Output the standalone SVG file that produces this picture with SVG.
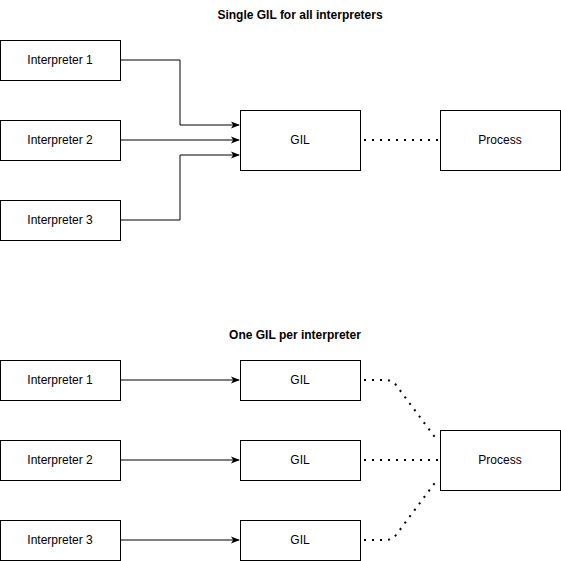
<svg xmlns="http://www.w3.org/2000/svg" width="561" height="561" viewBox="0 0 561 561">
<defs>
<style>
.box{fill:#fff;stroke:#000;stroke-width:1}
.lbl{font-family:"Liberation Sans",Arial,sans-serif;font-size:12px;fill:#000;text-anchor:middle;dominant-baseline:central}
.title{font-family:"Liberation Sans",Arial,sans-serif;font-size:12px;font-weight:bold;fill:#000;text-anchor:middle}
.arr{fill:none;stroke:#000;stroke-width:1;marker-end:url(#ah)}
.dot{fill:none;stroke:#000;stroke-width:2;stroke-dasharray:2 6;stroke-linejoin:round}
</style>
<marker id="ah" viewBox="0 0 10 10" refX="9" refY="5" markerWidth="9" markerHeight="9" markerUnits="userSpaceOnUse" orient="auto">
<path d="M0,1 L10,5 L0,9 L2.5,5 Z" fill="#000"/>
</marker>
</defs>
<rect width="561" height="561" fill="#fff"/>
<text class="title" x="300" y="19">Single GIL for all interpreters</text>
<text class="title" x="295" y="339">One GIL per interpreter</text>
<g id="connectors">
<path class="arr" d="M120,60 H180 V125 H239"/>
<path class="arr" d="M120,140 H239"/>
<path class="arr" d="M120,220 H180 V155 H239"/>
<path class="dot" d="M364,140 H440"/>
<path class="arr" d="M120,380 H239"/>
<path class="arr" d="M120,460 H239"/>
<path class="arr" d="M120,540 H239"/>
<path class="dot" d="M364,380 H386 Q392,380 396,385 L437,440"/>
<path class="dot" d="M364,460 H440"/>
<path class="dot" d="M364,540 H386 Q392,540 396,535 L437,480"/>
</g>
<g id="interp1"><rect class="box" x="0.5" y="40.5" width="120" height="40"/><text class="lbl" x="60" y="60">Interpreter 1</text></g>
<g id="interp2"><rect class="box" x="0.5" y="120.5" width="120" height="40"/><text class="lbl" x="60" y="140">Interpreter 2</text></g>
<g id="interp3"><rect class="box" x="0.5" y="200.5" width="120" height="40"/><text class="lbl" x="60" y="220">Interpreter 3</text></g>
<g id="gil"><rect class="box" x="240.5" y="110.5" width="120" height="60"/><text class="lbl" x="300" y="140">GIL</text></g>
<g id="process1"><rect class="box" x="440.5" y="110.5" width="120" height="60"/><text class="lbl" x="500" y="140">Process</text></g>
<g id="interp1b"><rect class="box" x="0.5" y="360.5" width="120" height="40"/><text class="lbl" x="60" y="380">Interpreter 1</text></g>
<g id="interp2b"><rect class="box" x="0.5" y="440.5" width="120" height="40"/><text class="lbl" x="60" y="460">Interpreter 2</text></g>
<g id="interp3b"><rect class="box" x="0.5" y="520.5" width="120" height="40"/><text class="lbl" x="60" y="540">Interpreter 3</text></g>
<g id="gil1"><rect class="box" x="240.5" y="360.5" width="120" height="40"/><text class="lbl" x="300" y="380">GIL</text></g>
<g id="gil2"><rect class="box" x="240.5" y="440.5" width="120" height="40"/><text class="lbl" x="300" y="460">GIL</text></g>
<g id="gil3"><rect class="box" x="240.5" y="520.5" width="120" height="40"/><text class="lbl" x="300" y="540">GIL</text></g>
<g id="process2"><rect class="box" x="440.5" y="430.5" width="120" height="60"/><text class="lbl" x="500" y="460">Process</text></g>
</svg>
